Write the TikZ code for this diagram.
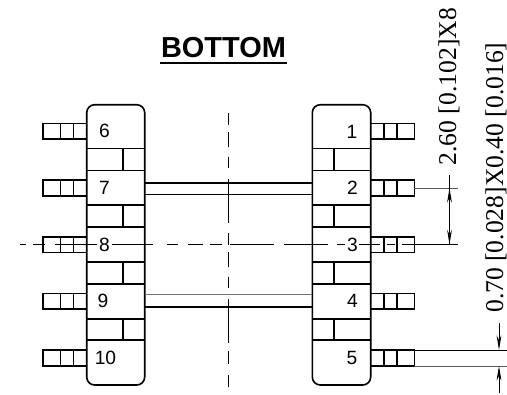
\documentclass[tikz,border=0pt]{standalone}
\usepackage{fontspec}
\setmainfont{Liberation Sans}
\newfontfamily\dimfont{Liberation Serif}
\usetikzlibrary{arrows.meta}
\tikzset{
  x=0.75pt,y=-0.75pt,
  thick line/.style={line width=1.2pt,black},
  thin line/.style={line width=0.7pt,black},
  pin num/.style={font=\fontsize{14.4pt}{16pt}\selectfont,inner sep=0pt,anchor=center},
  dim text/.style={font=\dimfont\fontsize{19.2pt}{22pt}\selectfont,inner sep=0pt,rotate=90,anchor=base west},
  dim arrow/.style={thin line,-{Stealth[length=11pt,width=3.6pt]}},
  center line/.style={line width=0.7pt,black},
}
\begin{document}
\begin{tikzpicture}
\useasboundingbox (0,0) rectangle (507,394);
\fill[white] (0,0) rectangle (507,394);
% centre lines
\foreach \a/\b in {113/125,132/147,157/168,179/223,233/245,252/267,277/288,299/343,351/364,375/387}{
  \draw[center line] (228.7,\a) -- (228.7,\b);
}
\foreach \a/\b in {20/26,33/45,55/97,112/153,167/178,188/203,210/222,230/274,284/328,337/345,359/380,387/395,402/414}{
  \draw[center line] (\a,244.4) -- (\b,244.4);
}
% bodies
\draw[thick line,rounded corners=6pt] (86.7,104.7) rectangle (144.7,385);
\draw[thick line,rounded corners=6pt] (312.3,104.7) rectangle (370.7,385);
\foreach \y in {148.3,170.3,205,227,262,283.7,319,340}{
  \draw[thick line] (86.7,\y) -- (144.7,\y);
  \draw[thick line] (312.3,\y) -- (370.7,\y);
}
\foreach \a/\b in {148.3/170.3,205/227,262/283.7,319/340}{
  \draw[thick line] (123,\a) -- (123,\b);
  \draw[thick line] (334,\a) -- (334,\b);
}
% pins
\foreach \a/\b in {123.3/139,180/195.7,236.7/252.5,293.3/309,350/366}{
  \draw[thick line] (86.7,\a) -- (42.7,\a) -- (42.7,\b) -- (86.7,\b);
  \draw[thick line] (60.3,\a) -- (60.3,\b) (73.3,\a) -- (73.3,\b);
  \draw[thick line] (370.7,\a) -- (414.3,\a) -- (414.3,\b) -- (370.7,\b);
  \draw[thick line] (383.7,\a) -- (383.7,\b) (396.7,\a) -- (396.7,\b);
}
% links
\draw[thick line] (144.7,182.7) -- (312.3,182.7);
\draw[thin line] (144.7,194.3) -- (312.3,194.3);
\draw[line width=0.9pt,black!55] (144.7,294.6) -- (312.3,294.6);
\draw[thick line] (144.7,307) -- (312.3,307);
% numbers
\node[pin num] (n6) at (104.5,130.5) {6};
\node[pin num] (n7) at (104.5,188) {7};
\node[pin num] (n8) at (104.5,244.5) {8};
\node[pin num] (n9) at (103,301) {9};
\node[pin num] (n10) at (105.5,358) {10};
\node[pin num] (n1) at (352,131.5) {1};
\node[pin num] (n2) at (352.5,187.5) {2};
\node[pin num] (n3) at (352.5,244.5) {3};
\node[pin num] (n4) at (352.5,301) {4};
\node[pin num] (n5) at (352,358) {5};
% title
\node[font=\bfseries\fontsize{21.7pt}{24pt}\selectfont,inner sep=0pt] (title) at (223.5,47.5) {BOTTOM};
\draw[line width=1.5pt] (160,63.4) -- (287,63.4);
% dimensions
\draw[thin line,black!65] (414.3,188) -- (457.5,188);
\draw[thin line] (414.3,244.4) -- (457.5,244.4);
\draw[thin line] (449.5,175) -- (449.5,244.4);
\draw[dim arrow] (449.5,215) -- (449.5,188);
\draw[dim arrow] (449.5,215) -- (449.5,244.4);
\node[dim text] (d1) at (456,165.5) {2.60 [0.102]X8};
\draw[thin line] (414.3,350) -- (507,350);
\draw[thin line,black!65] (414.3,366) -- (507,366);
\draw[dim arrow] (499,323) -- (499,350);
\draw[dim arrow] (499,393) -- (499,366);
\node[dim text] (d2) at (503,313) {0.70 [0.028]X0.40 [0.016]};
\end{tikzpicture}
\end{document}
